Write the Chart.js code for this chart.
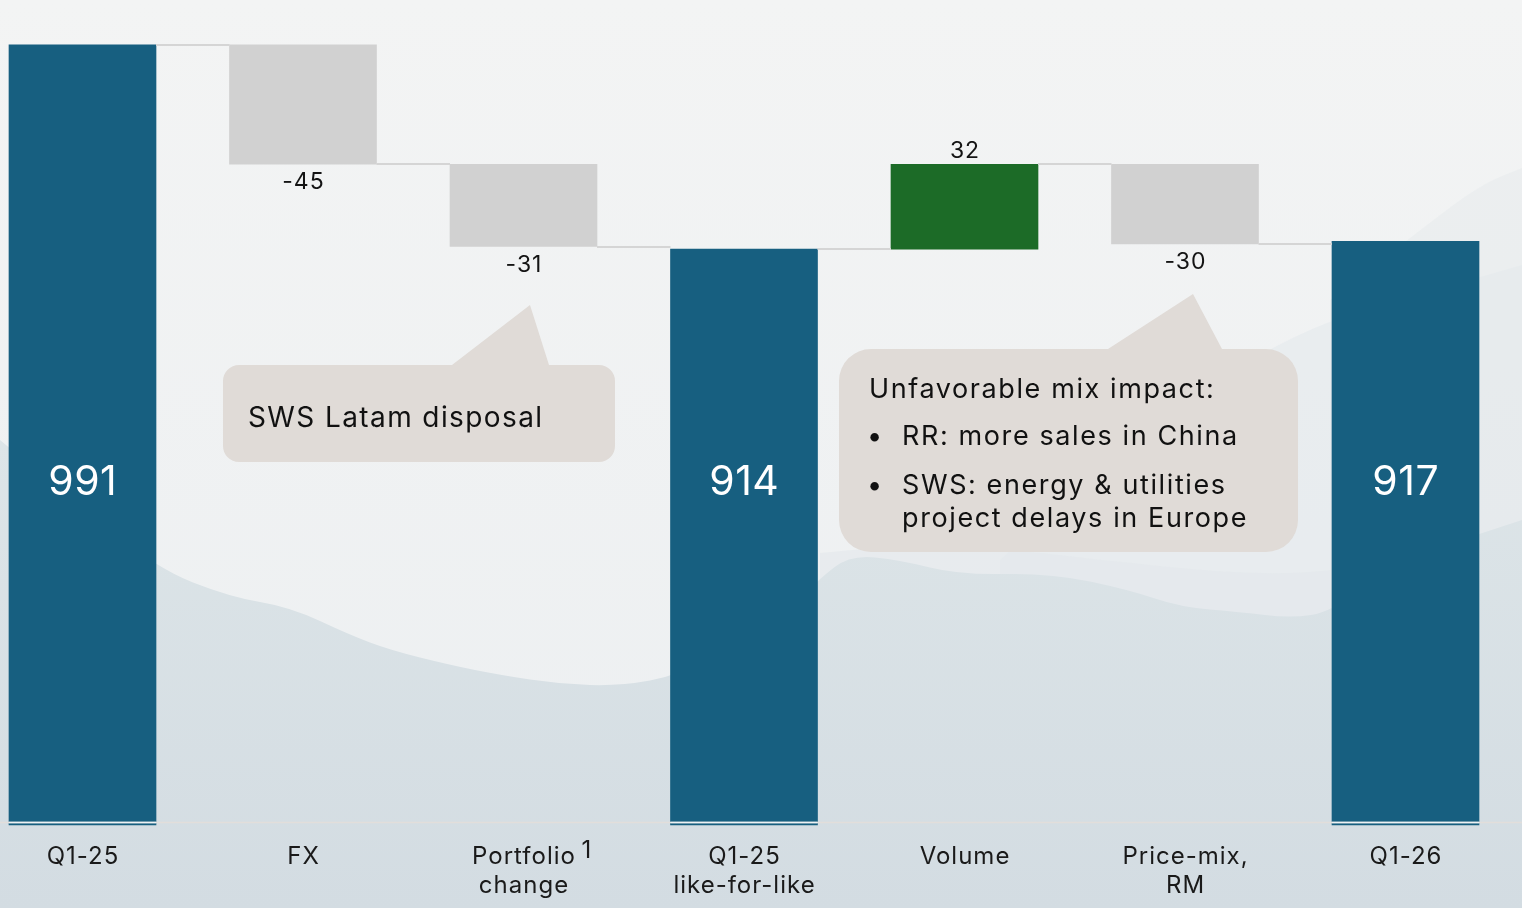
<!DOCTYPE html>
<html>
<head>
<meta charset="utf-8">
<title>Bridge Q1-25 to Q1-26</title>
<script src="https://cdn.jsdelivr.net/npm/chart.js@4.4.1/dist/chart.umd.min.js"></script>
<style>
  html, body { margin: 0; padding: 0; background: #f2f3f4; }
  #wrap { width: 1522px; height: 908px; }
</style>
</head>
<body>
<div id="wrap"><canvas id="grafico" width="1522" height="908"></canvas></div>
<script>
// categories and values of the bridge
const categories = ['Q1-25', 'FX', ['Portfolio', 'change'], ['Q1-25', 'like-for-like'], 'Volume', ['Price-mix,', 'RM'], 'Q1-26'];
const totals = [991, null, null, 914, null, null, 917];
const changes = [null, -45, -31, null, 32, -30, null];
const superscripts = [null, null, '1', null, null, null, null];
const yMin = 697;
const yMax = 1000;

const colTotal = '#175f80';
const colDown = '#d1d1d1';
const colUp = '#1c6b27';
const fontName = 'Inter, "Noto Sans", sans-serif';

// floating ranges: totals from the floor, changes from the running level
var ranges = [];
var levels = [];
var running = 0;
for (let i = 0; i < categories.length; i++) {
  if (totals[i] !== null) {
    ranges.push([yMin, totals[i]]);
    running = totals[i];
  } else {
    let next = running + changes[i];
    ranges.push([Math.min(running, next), Math.max(running, next)]);
    running = next;
  }
  levels.push(running);
}
var colores = categories.map(function (c, i) {
  if (totals[i] !== null) return colTotal;
  return changes[i] < 0 ? colDown : colUp;
});

// hill silhouette, smoothed through the midpoints
function mountain(ctx, pts, fill) {
  ctx.beginPath();
  ctx.moveTo(pts[0][0], 908);
  ctx.lineTo(pts[0][0], pts[0][1]);
  for (let i = 1; i < pts.length - 1; i++) {
    let mx = (pts[i][0] + pts[i + 1][0]) / 2;
    let my = (pts[i][1] + pts[i + 1][1]) / 2;
    ctx.quadraticCurveTo(pts[i][0], pts[i][1], mx, my);
  }
  let last = pts[pts.length - 1];
  ctx.lineTo(last[0], last[1]);
  ctx.lineTo(last[0], 908);
  ctx.closePath();
  ctx.fillStyle = fill;
  ctx.fill();
}

const fondo = {
  id: 'fondo',
  beforeDraw(chart) {
    const ctx = chart.ctx;
    ctx.save();
    let g = ctx.createLinearGradient(0, 0, 0, 908);
    g.addColorStop(0, '#f3f4f4');
    g.addColorStop(1, '#eceff1');
    ctx.fillStyle = g;
    ctx.fillRect(0, 0, 1522, 908);
    // far hills on the right
    mountain(ctx, [[1000, 560], [1150, 420], [1300, 330], [1400, 300], [1522, 265]], 'rgba(224,230,234,0.45)');
    mountain(ctx, [[1330, 300], [1420, 230], [1480, 185], [1522, 168]], 'rgba(228,233,236,0.45)');
    mountain(ctx, [[820, 553], [900, 545], [1000, 548], [1100, 560], [1250, 575], [1350, 570], [1522, 540]], 'rgba(226,232,235,0.6)');
    // near hills
    let h = ctx.createLinearGradient(0, 440, 0, 908);
    h.addColorStop(0, '#dde5e8');
    h.addColorStop(1, '#d3dce2');
    mountain(ctx, [[0, 440], [60, 490], [156, 568], [230, 597], [290, 607], [350, 635], [390, 650], [450, 665],
      [500, 675], [560, 684], [620, 686], [680, 675], [740, 640], [800, 600], [818, 580], [850, 555], [900, 560],
      [960, 575], [1050, 573], [1130, 590], [1180, 607], [1240, 612], [1290, 618], [1332, 612], [1400, 560], [1522, 520]], h);
    ctx.restore();
  }
};

function bubble(ctx, x, y, w, h, r, tip) {
  ctx.beginPath();
  ctx.moveTo(x + r, y);
  ctx.lineTo(tip[0][0], y);
  ctx.lineTo(tip[1][0], tip[1][1]);
  ctx.lineTo(tip[2][0], y);
  ctx.lineTo(x + w - r, y);
  ctx.arcTo(x + w, y, x + w, y + r, r);
  ctx.lineTo(x + w, y + h - r);
  ctx.arcTo(x + w, y + h, x + w - r, y + h, r);
  ctx.lineTo(x + r, y + h);
  ctx.arcTo(x, y + h, x, y + h - r, r);
  ctx.lineTo(x, y + r);
  ctx.arcTo(x, y, x + r, y, r);
  ctx.closePath();
  ctx.fillStyle = '#e0dbd7';
  ctx.fill();
}

// centred text with letter spacing (trailing gap removed)
function texto(ctx, t, x, y, sp) {
  ctx.letterSpacing = sp + 'px';
  ctx.fillText(t, x + sp / 2, y);
  ctx.letterSpacing = '0px';
}

const etiquetas = {
  id: 'etiquetas',
  afterDatasetsDraw(chart) {
    const ctx = chart.ctx;
    const ys = chart.scales.y;
    const bars = chart.getDatasetMeta(0).data;
    const area = chart.chartArea;
    ctx.save();

    // connectors between bars
    ctx.strokeStyle = '#d5d5d5';
    ctx.lineWidth = 2;
    for (let i = 0; i < bars.length - 1; i++) {
      let y = Math.round(ys.getPixelForValue(levels[i]));
      ctx.beginPath();
      ctx.moveTo(bars[i].x + bars[i].width / 2, y);
      ctx.lineTo(bars[i + 1].x - bars[i + 1].width / 2, y);
      ctx.stroke();
    }

    // base line
    let yb = area.bottom - 2.5;
    ctx.lineWidth = 1.5;
    ctx.strokeStyle = '#e2dedb';
    ctx.beginPath(); ctx.moveTo(0, yb); ctx.lineTo(1522, yb); ctx.stroke();
    ctx.strokeStyle = '#eef2f4';
    for (let i = 0; i < bars.length; i++) {
      if (totals[i] === null) continue;
      ctx.beginPath();
      ctx.moveTo(bars[i].x - bars[i].width / 2, yb);
      ctx.lineTo(bars[i].x + bars[i].width / 2, yb);
      ctx.stroke();
    }

    // values
    ctx.textAlign = 'center';
    ctx.textBaseline = 'alphabetic';
    for (let i = 0; i < bars.length; i++) {
      let b = bars[i];
      if (totals[i] !== null) {
        ctx.fillStyle = '#ffffff';
        ctx.font = '41px ' + fontName;
        texto(ctx, String(totals[i]), b.x, area.bottom - 330, 0.5);
      } else {
        ctx.fillStyle = '#141414';
        ctx.font = '23px ' + fontName;
        let v = changes[i];
        let txt = v > 0 ? String(v) : '-' + Math.abs(v);
        if (v < 0) {
          texto(ctx, txt, b.x, ys.getPixelForValue(ranges[i][0]) + 25, 1);
        } else {
          texto(ctx, txt, b.x, ys.getPixelForValue(ranges[i][1]) - 6, 1);
        }
      }
    }

    // category labels
    ctx.fillStyle = '#1a1a1a';
    ctx.font = '24px ' + fontName;
    for (let i = 0; i < categories.length; i++) {
      let lines = Array.isArray(categories[i]) ? categories[i] : [categories[i]];
      let x = chart.scales.x.getPixelForValue(i);
      lines.forEach(function (t, k) {
        texto(ctx, t, x, area.bottom + 39 + k * 29, 1);
      });
      if (superscripts[i]) {
        ctx.letterSpacing = '1px';
        let w = ctx.measureText(lines[0]).width;
        ctx.letterSpacing = '0px';
        ctx.textAlign = 'left';
        ctx.fillText(superscripts[i], x + w / 2 + 6, area.bottom + 33);
        ctx.textAlign = 'center';
      }
    }

    // callouts
    bubble(ctx, 223, 365, 392, 97, 16, [[452, 365], [530, 305], [549, 365]]);
    bubble(ctx, 839, 349, 459, 203, 32, [[1108, 349], [1193, 294], [1222, 349]]);
    ctx.fillStyle = '#111111';
    ctx.textAlign = 'left';
    ctx.font = '28px ' + fontName;
    ctx.letterSpacing = '1.4px';
    ctx.fillText('SWS Latam disposal', 248, 427);
    ctx.font = '27px ' + fontName;
    ctx.letterSpacing = '1.6px';
    ctx.fillText('Unfavorable mix impact:', 869, 398);
    ctx.fillText('•', 867, 445);
    ctx.fillText('RR: more sales in China', 902, 445);
    ctx.fillText('•', 867, 494);
    ctx.fillText('SWS: energy & utilities', 902, 494);
    ctx.fillText('project delays in Europe', 902, 527);
    ctx.letterSpacing = '0px';
    ctx.restore();
  }
};

const data = {
  labels: categories,
  datasets: [{
    label: 'Bridge',
    data: ranges,
    backgroundColor: colores,
    borderWidth: 0,
    borderSkipped: false,
    barThickness: 147,
    clip: false
  }]
};

const config = {
  type: 'bar',
  data,
  options: {
    responsive: false,
    animation: false,
    events: [],
    layout: { padding: { left: 82.5, right: 116.5, top: 21, bottom: 83 } },
    plugins: {
      legend: { display: false },
      tooltip: { enabled: false }
    },
    scales: {
      x: { display: false, offset: false },
      y: { display: false, min: yMin, max: yMax }
    }
  },
  plugins: [fondo, etiquetas]
};

const myChart = new Chart(document.getElementById('grafico'), config);
</script>
</body>
</html>
